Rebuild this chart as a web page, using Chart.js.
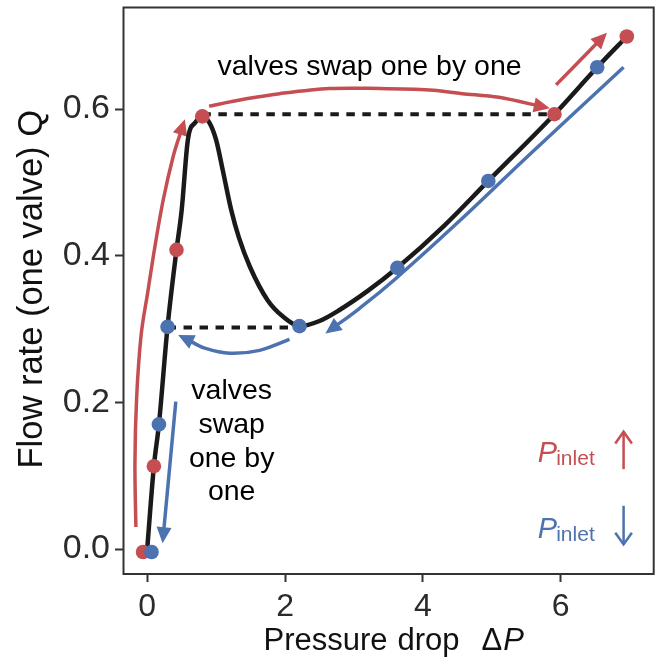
<!DOCTYPE html>
<html><head><meta charset="utf-8">
<script src="https://cdn.jsdelivr.net/npm/chart.js@4.4.1/dist/chart.umd.min.js"></script>
<style>html,body{margin:0;padding:0;background:#fff;} canvas{display:block;}</style>
</head><body>
<canvas id="c" width="661" height="662"></canvas>
<script>
// ---- data ----
const curveX = [0.0, 0.097, 0.17, 0.295, 0.425, 0.5, 0.59, 0.70, 0.80, 0.90, 1.0, 1.1, 1.22, 1.33, 1.49, 1.75, 1.97, 2.21, 2.5, 2.79, 3.2, 3.63, 4.3, 4.95, 5.91, 6.53, 6.96];
const curveY = [0.0, 0.113, 0.170, 0.303, 0.408, 0.462, 0.558, 0.582, 0.590, 0.582, 0.558, 0.515, 0.462, 0.425, 0.385, 0.339, 0.317, 0.304, 0.311, 0.326, 0.352, 0.3835, 0.440, 0.502, 0.593, 0.657, 0.699];
const redX = [-0.06, 0.097, 0.425, 0.80, 5.91, 6.96];
const redY = [-0.004, 0.113, 0.408, 0.590, 0.593, 0.699];
const blueX = [0.063, 0.17, 0.295, 2.21, 3.63, 4.95, 6.53];
const blueY = [-0.004, 0.170, 0.303, 0.304, 0.3835, 0.502, 0.657];
const dashHighX = [0.80, 5.91];
const dashHighY = [0.593, 0.593];
const dashLowX = [0.295, 2.21];
const dashLowY = [0.302, 0.302];
const xTicks = [0, 2, 4, 6];
const yTicks = [0.0, 0.2, 0.4, 0.6];
// arrows (data coordinates along each path, ending at the tip)
const arrowRedRiseX = [-0.164, -0.178, -0.153, -0.088, 0.006, 0.111, 0.232, 0.376, 0.546];
const arrowRedRiseY = [0.030, 0.117, 0.207, 0.292, 0.349, 0.412, 0.476, 0.535, 0.586];
const arrowRedTopX = [0.898, 1.438, 1.920, 2.644, 3.368, 4.091, 4.573, 5.104, 5.842];
const arrowRedTopY = [0.604, 0.614, 0.621, 0.628, 0.628, 0.626, 0.621, 0.616, 0.601];
const arrowRedUpX = [5.933, 6.672];
const arrowRedUpY = [0.633, 0.704];
const arrowBlueDescX = [6.913, 5.538, 4.573, 3.609, 3.078, 2.586];
const arrowBlueDescY = [0.657, 0.537, 0.451, 0.369, 0.328, 0.294];
const arrowBlueDipX = [2.065, 1.631, 1.197, 0.835, 0.449];
const arrowBlueDipY = [0.286, 0.271, 0.267, 0.274, 0.292];
const arrowBlueFallX = [0.415, 0.223];
const arrowBlueFallY = [0.201, 0.008];
const topNote = 'valves swap one by one';
const sideNote = ['valves', 'swap', 'one by', 'one'];

const FONT = '"Liberation Sans", Arial, Helvetica, sans-serif';
const RED = '#c44e52', BLUE = '#4c72b0', INK = '#1a1a1a';
const pts = (xs, ys) => xs.map((x, i) => ({x, y: ys[i]}));

function px(chart, x, y) { return [chart.scales.x.getPixelForValue(x), chart.scales.y.getPixelForValue(y)]; }

function smoothPath(ctx, p) {
  ctx.moveTo(p[0][0], p[0][1]);
  for (let i = 0; i < p.length - 1; i++) {
    const p0 = p[Math.max(i - 1, 0)], p1 = p[i], p2 = p[i + 1], p3 = p[Math.min(i + 2, p.length - 1)];
    const c1 = [p1[0] + (p2[0] - p0[0]) / 6, p1[1] + (p2[1] - p0[1]) / 6];
    const c2 = [p2[0] - (p3[0] - p1[0]) / 6, p2[1] - (p3[1] - p1[1]) / 6];
    ctx.bezierCurveTo(c1[0], c1[1], c2[0], c2[1], p2[0], p2[1]);
  }
}

function drawArrow(ctx, chart, xs, ys, color) {
  const p = xs.map((x, i) => px(chart, x, ys[i]));
  const n = p.length, tip = p[n - 1], prev = p[n - 2];
  let dx = tip[0] - prev[0], dy = tip[1] - prev[1];
  const L = Math.hypot(dx, dy); dx /= L; dy /= L;
  const headL = 16, headW = 7.5;
  const base = [tip[0] - dx * headL * 0.8, tip[1] - dy * headL * 0.8];
  const path = p.slice(0, n - 1).concat([base]);
  ctx.save();
  ctx.strokeStyle = color; ctx.fillStyle = color; ctx.lineWidth = 3.5; ctx.lineCap = 'butt';
  ctx.beginPath(); smoothPath(ctx, path); ctx.stroke();
  ctx.beginPath();
  ctx.moveTo(tip[0], tip[1]);
  ctx.lineTo(tip[0] - dx * headL - dy * headW, tip[1] - dy * headL + dx * headW);
  ctx.lineTo(tip[0] - dx * headL + dy * headW, tip[1] - dy * headL - dx * headW);
  ctx.closePath(); ctx.fill();
  ctx.restore();
}

function pinlet(ctx, chart, x, y, color) {
  const [X, Y] = px(chart, x, y);
  ctx.fillStyle = color; ctx.textAlign = 'left'; ctx.textBaseline = 'alphabetic';
  ctx.font = `italic 29px ${FONT}`;
  ctx.fillText('P', X, Y);
  const w = ctx.measureText('P').width;
  ctx.font = `21px ${FONT}`;
  ctx.fillText('inlet', X + w - 1, Y + 2.7);
}

function thinArrow(ctx, chart, x, y0, y1, color) {
  const [X, A] = px(chart, x, y0);
  const B = chart.scales.y.getPixelForValue(y1);
  const dir = Math.sign(B - A);
  ctx.save();
  ctx.strokeStyle = color; ctx.lineWidth = 2.5; ctx.lineCap = 'butt'; ctx.lineJoin = 'miter';
  ctx.beginPath(); ctx.moveTo(X, A); ctx.lineTo(X, B); ctx.stroke();
  ctx.beginPath();
  ctx.moveTo(X - 8.3, B - dir * 11.7); ctx.lineTo(X, B); ctx.lineTo(X + 8.3, B - dir * 11.7);
  ctx.stroke();
  ctx.restore();
}

const decor = {
  id: 'decor',
  beforeDatasetsDraw(chart) {
    const ctx = chart.ctx, a = chart.chartArea;
    ctx.save();
    ctx.strokeStyle = '#333'; ctx.lineWidth = 2;
    ctx.strokeRect(a.left, a.top, a.right - a.left, a.bottom - a.top);
    drawArrow(ctx, chart, arrowRedRiseX, arrowRedRiseY, RED);
    drawArrow(ctx, chart, arrowRedTopX, arrowRedTopY, RED);
    drawArrow(ctx, chart, arrowRedUpX, arrowRedUpY, RED);
    drawArrow(ctx, chart, arrowBlueDescX, arrowBlueDescY, BLUE);
    drawArrow(ctx, chart, arrowBlueDipX, arrowBlueDipY, BLUE);
    drawArrow(ctx, chart, arrowBlueFallX, arrowBlueFallY, BLUE);
    ctx.restore();
  },
  afterDatasetsDraw(chart) {
    const ctx = chart.ctx;
    ctx.save();
    ctx.fillStyle = '#000'; ctx.textAlign = 'center'; ctx.textBaseline = 'alphabetic';
    ctx.font = `28.5px ${FONT}`;
    let [X, Y] = px(chart, 3.227, 0.646);
    ctx.fillText(topNote, X, Y);
    [X, Y] = px(chart, 1.226, 0.2041);
    sideNote.forEach((s, i) => ctx.fillText(s, X, Y + i * 33.6));
    pinlet(ctx, chart, 5.669, 0.119, RED);
    pinlet(ctx, chart, 5.669, 0.0146, BLUE);
    thinArrow(ctx, chart, 6.913, 0.109, 0.160, RED);
    thinArrow(ctx, chart, 6.913, 0.059, 0.0064, BLUE);
    ctx.restore();
  },
  afterDraw(chart) {
    const ctx = chart.ctx, a = chart.chartArea;
    ctx.save();
    ctx.fillStyle = '#111'; ctx.textBaseline = 'alphabetic';
    // y title
    ctx.save();
    ctx.translate(a.left - 82, (a.top + a.bottom) / 2 - 1.5);
    ctx.rotate(-Math.PI / 2);
    ctx.textAlign = 'center';
    ctx.font = `34.5px ${FONT}`;
    ctx.fillText('Flow rate (one valve) Q', 0, 0);
    ctx.restore();
    // x title
    const base = a.bottom + 76;
    ctx.textAlign = 'left';
    ctx.font = `31px ${FONT}`;
    const x0 = a.left + 140;
    ctx.fillText('Pressure', x0, base);
    ctx.fillText('drop', x0 + 134, base);
    ctx.fillText('Δ', x0 + 218, base);
    const wd = ctx.measureText('Δ').width;
    ctx.font = `italic 31px ${FONT}`;
    ctx.fillText('P', x0 + 218 + wd + 1, base);
    ctx.restore();
  }
};

new Chart(document.getElementById('c'), {
  type: 'scatter',
  data: {
    datasets: [
      {data: pts(blueX, blueY), backgroundColor: BLUE, borderColor: BLUE, pointRadius: 7.3, pointBorderWidth: 0, showLine: false},
      {data: pts(redX, redY), backgroundColor: RED, borderColor: RED, pointRadius: 7.3, pointBorderWidth: 0, showLine: false},
      {data: pts(dashHighX, dashHighY), showLine: true, borderColor: INK, borderWidth: 4, borderDash: [8.5, 7.5], pointRadius: 0},
      {data: pts(dashLowX, dashLowY), showLine: true, borderColor: INK, borderWidth: 4, borderDash: [8.5, 7.5], pointRadius: 0},
      {data: pts(curveX, curveY), showLine: true, borderColor: INK, borderWidth: 4.5, pointRadius: 0, cubicInterpolationMode: 'monotone', borderCapStyle: 'round'}
    ]
  },
  options: {
    responsive: false, animation: false, devicePixelRatio: 1,
    layout: {padding: {top: 7.5, right: 6, left: 0, bottom: 0}},
    plugins: {legend: {display: false}, tooltip: {enabled: false}},
    scales: {
      x: {
        type: 'linear', min: -0.344, max: 7.35,
        afterFit(s) { s.height = 88; s.paddingLeft = 0; s.paddingRight = 0; },
        afterBuildTicks(s) { s.ticks = xTicks.map(v => ({value: v})); },
        grid: {drawOnChartArea: false, drawTicks: true, tickLength: 8, tickColor: '#333', tickWidth: 2},
        border: {display: false},
        ticks: {font: {family: FONT, size: 32}, color: '#2b2b2b', padding: 6, maxRotation: 0, callback: v => String(v)}
      },
      y: {
        type: 'linear', min: -0.034, max: 0.7385,
        afterFit(s) { s.width = 123.5; s.paddingTop = 0; s.paddingBottom = 0; },
        afterBuildTicks(s) { s.ticks = yTicks.map(v => ({value: v})); },
        grid: {drawOnChartArea: false, drawTicks: true, tickLength: 8.5, tickColor: '#333', tickWidth: 2},
        border: {display: false},
        ticks: {font: {family: FONT, size: 34}, color: '#2b2b2b', padding: 5, callback: v => Number(v).toFixed(1)}
      }
    }
  },
  plugins: [decor]
});
</script>
</body></html>
